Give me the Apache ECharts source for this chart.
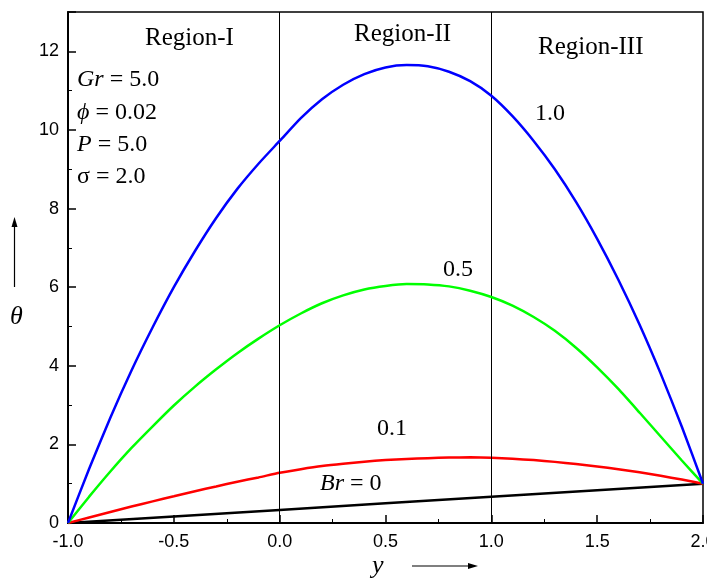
<!DOCTYPE html>
<html>
<head>
<meta charset="utf-8">
<script src="https://cdn.jsdelivr.net/npm/echarts@6/dist/echarts.min.js"></script>
<style>html,body{margin:0;padding:0;background:#fff}#c{width:707px;height:581px}</style>
</head>
<body>
<div id="c"></div>
<script>
// y positions (abscissa)
var yPos = [-1.0,-0.9,-0.8,-0.7,-0.6,-0.5,-0.4,-0.3,-0.2,-0.1,0.0,0.1,0.2,0.3,0.4,0.5,0.6,0.7,0.8,0.9,1.0,1.1,1.2,1.3,1.4,1.5,1.6,1.7,1.8,1.9,2.0];
// theta for Br = 1.0
var thetaBr10 = [0,1.38,2.68,3.88,4.98,6.00,6.92,7.76,8.50,9.14,9.72,10.30,10.78,11.15,11.42,11.59,11.65,11.62,11.48,11.24,10.87,10.35,9.72,9.00,8.17,7.23,6.19,5.05,3.80,2.45,1.00];
// theta for Br = 0.5
var thetaBr05 = [0,0.67,1.31,1.91,2.46,2.99,3.47,3.91,4.32,4.69,5.03,5.33,5.59,5.79,5.94,6.03,6.08,6.07,6.02,5.91,5.75,5.53,5.24,4.89,4.46,3.96,3.41,2.81,2.20,1.59,1.00];
// theta for Br = 0.1
var thetaBr01 = [0,0.14,0.28,0.42,0.55,0.68,0.81,0.93,1.05,1.16,1.28,1.37,1.45,1.51,1.56,1.60,1.63,1.65,1.665,1.67,1.66,1.635,1.60,1.555,1.50,1.44,1.37,1.29,1.20,1.105,1.00];
// Br = 0 (straight line)
var yPosBr0 = [-1.0,-0.5,0.0,0.5,1.0,1.5,2.0];
var thetaBr0 = [0,0.167,0.333,0.5,0.667,0.833,1.0];
// region boundaries
var boundaries = [0.0, 1.0];

function pairs(xs, ys){ return xs.map(function(x,i){ return [x, ys[i]]; }); }

var chart = echarts.init(document.getElementById('c'), null, {renderer:'canvas'});
var serif = '"Liberation Serif","Times New Roman",serif';
var sans = '"Liberation Sans",Arial,sans-serif';

function txt(text, x, y, size, rich){
  return {type:'text', left:x, top:y - size/2, silent:true, z:100,
    style:{text:text, font: size+'px '+serif, fill:'#000', rich: rich || {}}};
}
var richI = {i:{fontStyle:'italic', fontFamily:serif, fontSize:24, fill:'#000'}, n:{fontFamily:serif, fontSize:24, fill:'#000'}};

var option = {
  animation:false,
  backgroundColor:'#fff',
  grid:{left:68, right:4, top:12, bottom:58, show:true, borderColor:'#000', borderWidth:1.5,
    containLabel:false, outerBoundsMode:'none'},
  xAxis:{type:'value', min:-1, max:2, interval:0.5,
    axisLine:{show:true, onZero:false, lineStyle:{color:'#000', width:2}},
    axisTick:{show:true, inside:true, length:8, lineStyle:{color:'#000', width:1.5}},
    minorTick:{show:true, splitNumber:2, length:4, lineStyle:{color:'#000', width:1}},
    splitLine:{show:false}, minorSplitLine:{show:false},
    axisLabel:{color:'#000', fontFamily:sans, fontSize:18, margin:10,
      formatter:function(v){ return v.toFixed(1); }}
  },
  yAxis:{type:'value', min:0, max:13, interval:2,
    axisLine:{show:true, onZero:false, lineStyle:{color:'#000', width:2}},
    axisTick:{show:true, inside:true, length:8, lineStyle:{color:'#000', width:1.5}},
    minorTick:{show:true, splitNumber:2, length:4, lineStyle:{color:'#000', width:1}},
    splitLine:{show:false}, minorSplitLine:{show:false},
    axisLabel:{color:'#000', fontFamily:sans, fontSize:18, margin:9, showMaxLabel:false}
  },
  series:[
    {type:'line', name:'Br=0', data:pairs(yPosBr0, thetaBr0), symbol:'none',
      lineStyle:{color:'#000', width:2.5}, z:3,
      markLine:{silent:true, symbol:['none','none'], label:{show:false},
        lineStyle:{color:'#000', width:1, type:'solid'},
        data: boundaries.map(function(b){ return {xAxis:b}; })}},
    {type:'line', name:'Br=0.1', data:pairs(yPos, thetaBr01), symbol:'none', smooth:0.2,
      lineStyle:{color:'#ff0000', width:2.5}, z:4},
    {type:'line', name:'Br=0.5', data:pairs(yPos, thetaBr05), symbol:'none', smooth:0.2,
      lineStyle:{color:'#00ff00', width:2.5}, z:5},
    {type:'line', name:'Br=1.0', data:pairs(yPos, thetaBr10), symbol:'none', smooth:0.2,
      lineStyle:{color:'#0000ff', width:2.5}, z:6}
  ],
  graphic:[
    txt('Region-I', 145, 38, 25),
    txt('Region-II', 354, 34, 25),
    txt('Region-III', 538, 47, 25),
    txt('1.0', 535, 114, 24),
    txt('0.5', 443, 270, 24),
    txt('0.1', 377, 429, 24),
    txt('{i|Br}{n| = 0}', 320, 484, 24, richI),
    txt('{i|Gr}{n| = 5.0}', 77, 80, 24, richI),
    txt('{i|ϕ}{n| = 0.02}', 77, 113, 24, richI),
    txt('{i|P}{n| = 5.0}', 77, 145, 24, richI),
    txt('{n|σ = 2.0}', 77, 177, 24, richI),
    {type:'text', left:10, top:304, silent:true,
      style:{text:'θ', font:'italic 26px '+serif, fill:'#000'}},
    {type:'text', left:372, top:553, silent:true,
      style:{text:'y', font:'italic 26px '+serif, fill:'#000'}},
    {type:'line', silent:true, shape:{x1:14.5, y1:287, x2:14.5, y2:224}, style:{stroke:'#000', lineWidth:1.2}},
    {type:'polygon', silent:true, shape:{points:[[14.5,217],[11.5,227],[17.5,227]]}, style:{fill:'#000'}},
    {type:'line', silent:true, shape:{x1:412, y1:566, x2:470, y2:566}, style:{stroke:'#000', lineWidth:1.2}},
    {type:'polygon', silent:true, shape:{points:[[478,566],[468,563],[468,569]]}, style:{fill:'#000'}}
  ]
};
chart.setOption(option);
</script>
</body>
</html>
